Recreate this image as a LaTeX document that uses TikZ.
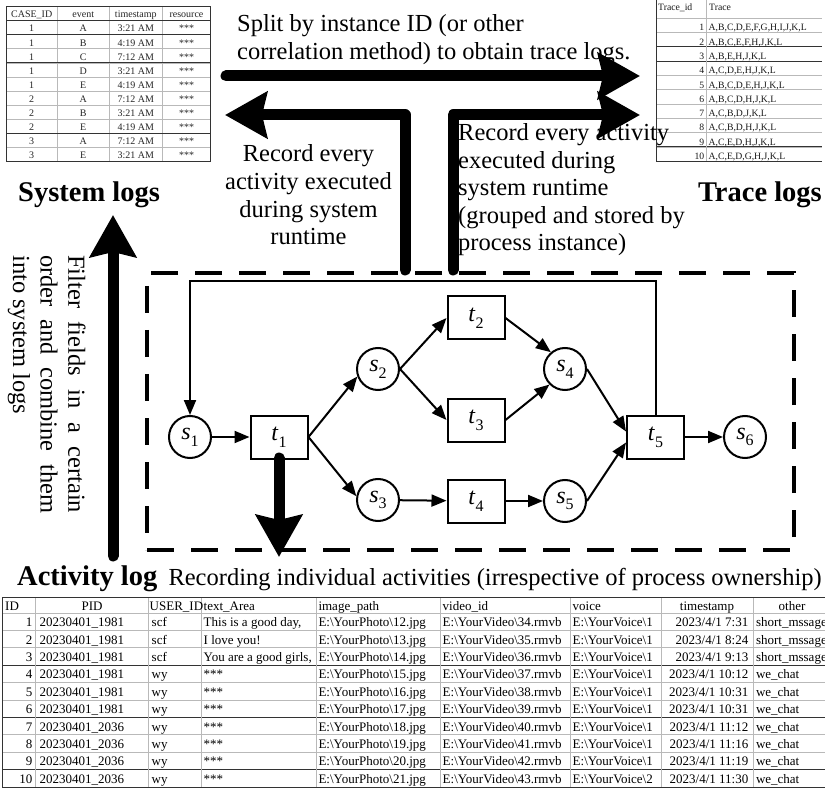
\documentclass[tikz,border=0pt]{standalone}
\usepackage{fontspec}
\setmainfont{Liberation Serif}
\usetikzlibrary{arrows.meta,calc}
\newcommand{\bsl}{\textbackslash}
\newcommand{\pn}[2]{\textit{#1}\raisebox{-0.28em}{\fontsize{16}{16}\selectfont #2}}
\newcommand{\brow}[9]{%
  \node[tC,anchor=base east] (bid#1) at (32.5,{609.3+17.4*#1}) {#1};
  \node[tC,anchor=base west] (bpid#1) at (39.5,{609.3+17.4*#1}) {#2};
  \node[tC,anchor=base west] (busr#1) at (151.5,{609.3+17.4*#1}) {#3};
  \node[tC,anchor=base west] (btxt#1) at (203.5,{609.3+17.4*#1}) {#4};
  \node[tC,anchor=base west] (bimg#1) at (318.3,{609.3+17.4*#1}) {E:\bsl YourPhoto\bsl #5.jpg};
  \node[tC,anchor=base west] (bvid#1) at (442.5,{609.3+17.4*#1}) {E:\bsl YourVideo\bsl #6.rmvb};
  \begin{scope}
    \clip (570,{595.6+17.4*#1}) rectangle (661.2,{613+17.4*#1});
    \node[tC,anchor=base west] (bvoc#1) at (572.5,{609.3+17.4*#1}) {E:\bsl YourVoice\bsl #7};
  \end{scope}
  \node[tC,anchor=base east] (bts#1) at (748.5,{609.3+17.4*#1}) {#8};
  \node[tC,anchor=base west] (both#1) at (755.8,{609.3+17.4*#1}) {#9};
}
\begin{document}
\begin{tikzpicture}[x=1pt,y=-1pt,
  place/.style={circle,draw,line width=2pt,minimum size=42pt,inner sep=0pt,font=\fontsize{24}{24}\selectfont},
  trans/.style={rectangle,draw,line width=2pt,minimum width=57pt,minimum height=43pt,inner sep=0pt,font=\fontsize{24}{24}\selectfont},
  arc/.style={line width=2pt,-{Triangle[length=15pt,width=12pt]}},
  bigarrow/.style={line width=11pt,line cap=round,line join=round,-{Stealth[length=42pt,width=46pt,inset=5pt]}},
  txt/.style={font=\fontsize{24.5}{28}\selectfont,inner sep=0pt},
  boldtxt/.style={font=\fontsize{28.5}{29}\selectfont\bfseries,inner sep=0pt},
  tA/.style={font=\fontsize{10}{10}\selectfont,inner sep=0pt,text=black!85},
  tB/.style={font=\fontsize{9.7}{10}\selectfont,inner sep=0pt,text=black!90},
  tC/.style={font=\fontsize{13}{13}\selectfont,inner sep=0pt},
  gline/.style={gray!55,line width=0.8pt},
  dline/.style={black!80,line width=1pt}
]
\useasboundingbox (0,0) rectangle (825,794);
\fill[white] (0,0) rectangle (825,794);

% ---------- top-left table (system log) ----------
\foreach \k in {2,...,9} \draw[gline] (6,{20.7+14.1*\k}) -- (210.7,{20.7+14.1*\k});
\foreach \x in {57.3,109.3,162.3} \draw[gline] (\x,6.7) -- (\x,161.7);
\foreach \k in {1,3,8} \draw[dline] (6,{20.7+14.1*\k}) -- (210.7,{20.7+14.1*\k});
\draw[dline] (6,20.7) -- (210.7,20.7);
\draw[dline] (6,6.7) rectangle (210.7,161.7);
\node[tA,anchor=base] (hA1) at (31.7,18) {CASE\_ID};
\node[tA,anchor=base] (hA2) at (83.3,18) {event};
\node[tA,anchor=base] (hA3) at (135.8,18) {timestamp};
\node[tA,anchor=base] (hA4) at (186.5,18) {resource};
\foreach [count=\i] \c/\e/\t in {1/A/3:21 AM,1/B/4:19 AM,1/C/7:12 AM,1/D/3:21 AM,1/E/4:19 AM,2/A/7:12 AM,2/B/3:21 AM,2/E/4:19 AM,3/A/7:12 AM,3/E/3:21 AM}{
  \node[tA,anchor=base] (la\i) at (31.7,{17.9+14.1*\i}) {\c};
  \node[tA,anchor=base] (lb\i) at (83.3,{17.9+14.1*\i}) {\e};
  \node[tA,anchor=base] (lc\i) at (135.8,{17.9+14.1*\i}) {\t};
  \node[tA,anchor=base] (ld\i) at (186.5,{17.9+14.1*\i}) {***};
}

% ---------- top-right table (trace log) ----------
\foreach \k in {0,...,9} \draw[gline] (656,{18.3+14.3*\k}) -- (822,{18.3+14.3*\k});
\foreach \k in {2,3,9} \draw[dline] (656,{18.3+14.3*\k}) -- (822,{18.3+14.3*\k});
\draw[gline] (706,0) -- (706,161.7);
\draw[dline] (656,0) -- (656,161.7);
\draw[dline] (656,161.7) -- (822,161.7);
\node[tB,anchor=base west] (hB1) at (658,10.5) {Trace\_id};
\node[tB,anchor=base west] (hB2) at (709,10.5) {Trace};
\foreach [count=\i] \tr in {{A,B,C,D,E,F,G,H,I,J,K,L},{A,B,C,E,F,H,J,K,L},{A,B,E,H,J,K,L},{A,C,D,E,H,J,K,L},{A,B,C,D,E,H,J,K,L},{A,B,C,D,H,J,K,L},{A,C,B,D,J,K,L},{A,C,B,D,H,J,K,L},{A,C,E,D,H,J,K,L},{A,C,E,D,G,H,J,K,L}}{
  \node[tB,anchor=base east] (rn\i) at (704.5,{16.6+14.3*\i}) {\i};
  \node[tB,anchor=base west] (rt\i) at (708.5,{16.6+14.3*\i}) {\tr};
}

% ---------- bottom table (activity log) ----------
\foreach \k in {0,...,9} \draw[gline] (2,{613+17.4*\k}) -- (825,{613+17.4*\k});
\foreach \k in {3,6,9} \draw[dline] (2,{613+17.4*\k}) -- (825,{613+17.4*\k});
\foreach \x in {35,148.3,201,316,440,570,661.7,753.3} \draw[gline] (\x,597.7) -- (\x,787);
\draw[dline] (2,597.7) -- (825,597.7);
\draw[dline] (2,597.7) -- (2,787);
\draw[dline] (2,787) -- (825,787);
\node[tC,anchor=base west] (hC1) at (5,610) {ID};
\node[tC,anchor=base] (hC2) at (92,610) {PID};
\node[tC,anchor=base west] (hC3) at (149.5,610) {USER\_ID};
\node[tC,anchor=base west] (hC4) at (203.5,610) {text\_Area};
\node[tC,anchor=base west] (hC5) at (318.3,610) {image\_path};
\node[tC,anchor=base west] (hC6) at (442.5,610) {video\_id};
\node[tC,anchor=base west] (hC7) at (572.5,610) {voice};
\node[tC,anchor=base] (hC8) at (707,610) {timestamp};
\node[tC,anchor=base] (hC9) at (792,610) {other};
\brow{1}{20230401\_1981}{scf}{This is a good day,}{12}{34}{1}{2023/4/1 7:31}{short\_mssage}
\brow{2}{20230401\_1981}{scf}{I love you!}{13}{35}{1}{2023/4/1 8:24}{short\_mssage}
\brow{3}{20230401\_1981}{scf}{You are a good girls,}{14}{36}{1}{2023/4/1 9:13}{short\_mssage}
\brow{4}{20230401\_1981}{wy}{***}{15}{37}{1}{2023/4/1 10:12}{we\_chat}
\brow{5}{20230401\_1981}{wy}{***}{16}{38}{1}{2023/4/1 10:31}{we\_chat}
\brow{6}{20230401\_1981}{wy}{***}{17}{39}{1}{2023/4/1 10:31}{we\_chat}
\brow{7}{20230401\_2036}{wy}{***}{18}{40}{1}{2023/4/1 11:12}{we\_chat}
\brow{8}{20230401\_2036}{wy}{***}{19}{41}{1}{2023/4/1 11:16}{we\_chat}
\brow{9}{20230401\_2036}{wy}{***}{20}{42}{1}{2023/4/1 11:19}{we\_chat}
\brow{10}{20230401\_2036}{wy}{***}{21}{43}{2}{2023/4/1 11:30}{we\_chat}

% ---------- process frame ----------
\node[draw,line width=3.5pt,dash pattern=on 27pt off 17pt,minimum width=647pt,minimum height=277pt,inner sep=0pt] (frame) at (470.5,411.5) {};

% ---------- Petri net ----------
\node[place] (s1) at (190,437) {\pn{s}{1}};
\node[trans] (t1) at (279,437) {\pn{t}{1}};
\node[place] (s2) at (378,369) {\pn{s}{2}};
\node[trans] (t2) at (476,318) {\pn{t}{2}};
\node[trans] (t3) at (476,420) {\pn{t}{3}};
\node[place] (s3) at (378,500) {\pn{s}{3}};
\node[trans] (t4) at (476,501) {\pn{t}{4}};
\node[place] (s4) at (565,369) {\pn{s}{4}};
\node[place] (s5) at (565,501) {\pn{s}{5}};
\node[trans] (t5) at (655.5,437) {\pn{t}{5}};
\node[place] (s6) at (745,437) {\pn{s}{6}};
\coordinate (fb) at (0,281.5);

\draw[arc] (s1) -- (t1);
\draw[arc] (t1.east) -- (s2.200);
\draw[arc] (t1.east) -- (s3.170);
\draw[arc] (s2.east) -- (t2.west);
\draw[arc] (s2.east) -- (t3.west);
\draw[arc] (t2.east) -- (s4.130);
\draw[arc] (t3.east) -- (s4.225);
\draw[arc] (s4.east) -- ($(t5.west)+(0,-5.5)$);
\draw[arc] (s5.east) -- ($(t5.west)+(0,5.5)$);
\draw[arc] (s3) -- (t4);
\draw[arc] (t4) -- (s5);
\draw[arc] (t5) -- (s6);
\draw[arc] (t5.north) -- (t5.north |- fb) -| (s1.north);

% ---------- thick arrows ----------
\coordinate (ta) at (226,76);  \coordinate (tb) at (640,76);
\coordinate (la) at (405,270); \coordinate (lb) at (225,115);
\coordinate (ra) at (453,270); \coordinate (rb) at (640,115);
\coordinate (va) at (113,556); \coordinate (vb) at (113,215);
\coordinate (da) at (279,557);
\draw[bigarrow] (ta) -- (tb);
\draw[bigarrow] (la) |- (lb);
\draw[bigarrow] (ra) |- (rb);
\draw[bigarrow] (va) -- (vb);
\draw[bigarrow] ($(t1.south)+(0,-1.5)$) -- (da);

% ---------- texts ----------
\node[txt,anchor=base west] (sp1) at (237,31.7) {Split by instance ID (or other};
\node[txt,anchor=base west] (sp2) at (237,60) {correlation method) to obtain trace logs.};

\node[txt,anchor=base] (le1) at (308.5,161.7) {Record every};
\node[txt,anchor=base] (le2) at (308.5,189.5) {activity executed};
\node[txt,anchor=base] (le3) at (308.5,217.3) {during system};
\node[txt,anchor=base] (le4) at (308.5,245) {runtime};

\node[txt,anchor=base west] (ri1) at (458,141) {Record every activity};
\node[txt,anchor=base west] (ri2) at (458,168.4) {executed during};
\node[txt,anchor=base west] (ri3) at (458,195.8) {system runtime};
\node[txt,anchor=base west] (ri4) at (458,223.2) {(grouped and stored by};
\node[txt,anchor=base west] (ri5) at (458,250.6) {process instance)};

\node[txt,rotate=-90,anchor=base west] (f1) at (68.3,255) {\makebox[258pt][s]{Filter fields in a certain}};
\node[txt,rotate=-90,anchor=base west] (f2) at (40.7,255) {\makebox[258pt][s]{order and combine them}};
\node[txt,rotate=-90,anchor=base west] (f3) at (13,255) {into system logs};

\node[boldtxt,anchor=base west] (syslog) at (18,201.5) {System logs};
\node[boldtxt,anchor=base east] (trlog) at (822,201.5) {Trace logs};
\node[boldtxt,anchor=base west] (actlog) at (17,585.5) {Activity log};
\node[txt,anchor=base west] (rec) at (168.3,585) {Recording individual activities (irrespective of process ownership)};
\end{tikzpicture}
\end{document}
